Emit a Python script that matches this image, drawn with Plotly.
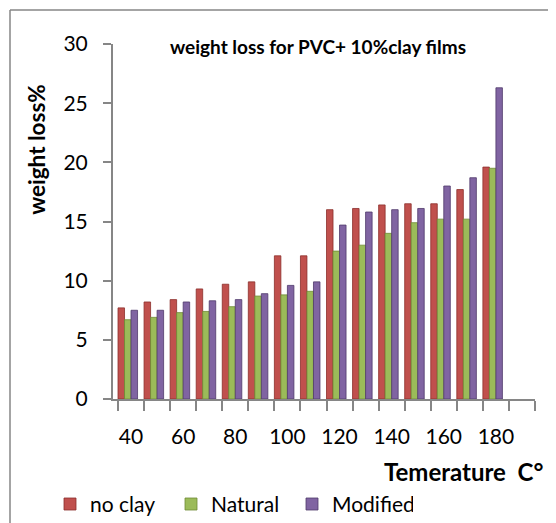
import plotly.graph_objects as go

temps = [40, 50, 60, 70, 80, 90, 100, 110, 120, 130, 140, 150, 160, 170, 180]
label_temps = [40, 60, 80, 100, 120, 140, 160, 180]
no_clay = [7.7, 8.2, 8.4, 9.3, 9.7, 9.9, 12.1, 12.1, 16.0, 16.1, 16.4, 16.5, 16.5, 17.7, 19.6]
natural = [6.7, 6.9, 7.3, 7.4, 7.8, 8.7, 8.8, 9.1, 12.5, 13.0, 14.0, 14.9, 15.2, 15.2, 19.5]
modified = [7.5, 7.5, 8.2, 8.3, 8.4, 8.9, 9.6, 9.9, 14.7, 15.8, 16.0, 16.1, 18.0, 18.7, 26.3]
y_ticks = [0, 5, 10, 15, 20, 25, 30]

# page body has an 8px margin; work in screen pixels and shift
OFF = 8
W, H = 556 - OFF, 523 - OFF
L, T = 113 - OFF, 44 - OFF
R = W - (535 - OFF)
B = H - (399.5 - OFF)
PW = W - L - R
PH = H - T - B


def px(x):
    return (x - OFF - L) / PW


def py(y):
    return (H - B - (y - OFF)) / PH


FONT = "Lato"
GRAY = "#868686"

series = [
    ("no clay", no_clay, "#C0504D", "#8B2E2B", -5.0),
    ("Natural", natural, "#9BBB59", "#6E8A35", -2.5),
    ("Modified", modified, "#8064A2", "#4F3A6B", 0.0),
]

fig = go.Figure()
for name, vals, col, dark, off in series:
    fig.add_trace(go.Bar(
        x=temps, y=vals, name=name,
        offset=off, width=2.5,
        marker=dict(color=col, line=dict(color=dark, width=0.8)),
    ))

fig.update_layout(
    width=W, height=H,
    margin=dict(l=L, r=R, t=T, b=B, autoexpand=False),
    paper_bgcolor="white", plot_bgcolor="white",
    font=dict(family=FONT, size=21, color="black"),
    barmode="overlay",
    showlegend=True,
    legend=dict(
        orientation="h", x=px(50), y=py(505), xanchor="left", yanchor="middle",
        font=dict(family=FONT, size=21, color="black"),
        entrywidth=76, entrywidthmode="pixels", itemwidth=30,
        bgcolor="rgba(0,0,0,0)",
    ),
    xaxis=dict(
        range=[35 - 10 * 5 / 26.06, 195],
        tickvals=label_temps, ticktext=[str(t) for t in label_temps],
        ticks="", showline=True, linecolor=GRAY, linewidth=2,
        showgrid=False, zeroline=False,
        ticklabelstandoff=18,
        tickfont=dict(family=FONT, size=21),
        minor=dict(tick0=35, dtick=10, ticks="outside", ticklen=10,
                   tickcolor=GRAY, tickwidth=1.5, showgrid=False),
    ),
    yaxis=dict(
        range=[0, 30], tickvals=y_ticks,
        ticks="outside", ticklen=8, tickcolor=GRAY, tickwidth=1.5,
        showline=True, linecolor=GRAY, linewidth=2,
        showgrid=False, zeroline=False,
        ticklabelstandoff=11,
        tickfont=dict(family=FONT, size=21),
    ),
    annotations=[
        dict(text="<b>weight loss for PVC+ 10%clay films</b>", x=px(318), y=py(47),
             xref="paper", yref="paper", showarrow=False, xanchor="center", yanchor="middle",
             font=dict(family=FONT, size=19)),
        dict(text="<b>weight loss%</b>", x=px(37), y=py(150), textangle=-90,
             xref="paper", yref="paper", showarrow=False, xanchor="center", yanchor="middle",
             font=dict(family=FONT, size=22.5)),
        dict(text="<b>Temerature\u00a0\u00a0C°</b>", x=px(545), y=py(472),
             xref="paper", yref="paper", showarrow=False, xanchor="right", yanchor="middle",
             font=dict(family=FONT, size=24)),
    ],
    shapes=[
        dict(type="line", xref="paper", yref="paper", x0=px(10), x1=px(570), y0=py(10), y1=py(10),
             line=dict(color=GRAY, width=1.5)),
        dict(type="line", xref="paper", yref="paper", x0=px(10), x1=px(10), y0=py(10), y1=py(540),
             line=dict(color=GRAY, width=1.5)),
    ],
)

fig.write_html("out.html")
